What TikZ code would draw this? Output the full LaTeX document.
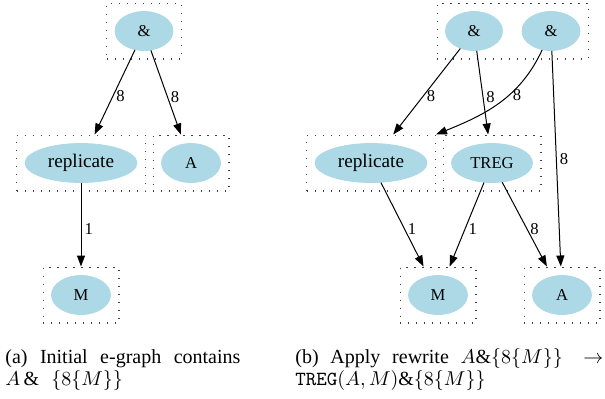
\documentclass[tikz,border=0pt]{standalone}
\usepackage{fontspec}
\setmainfont{Liberation Serif}
\usetikzlibrary{shapes.geometric}
\usetikzlibrary{fit}
\usetikzlibrary{arrows.meta}
\definecolor{egraphblue}{HTML}{ADD8E6}

\begin{document}
\begin{tikzpicture}[x=0.5pt,y=-0.5pt,
    enode/.style={ellipse,fill=egraphblue,draw=egraphblue,inner sep=0pt,minimum height=19.5pt,font=\fontsize{8.3}{10}\selectfont},
    eclass/.style={draw=black!75,line width=0.6pt,dash pattern=on 0.6pt off 3.4pt,inner sep=4pt},
    edge/.style={-{Triangle[length=5.5pt,width=4pt]},line width=0.5pt},
    lbl/.style={right,inner sep=1.5pt,font=\fontsize{8.3}{10}\selectfont}]
    \useasboundingbox (0,0) rectangle (605,398);

    % (a) initial e-graph
    \node[enode,minimum width=29pt] (aamp) at (144,31) {\&};
    \node[enode,minimum width=56pt,font=\fontsize{9.6}{11}\selectfont] (arep) at (81,163) {replicate};
    \node[enode,minimum width=29.5pt] (aA) at (191,163) {A};
    \node[enode,minimum width=29.5pt] (aM) at (81,295) {M};

    \node[eclass,fit=(aamp)] (aampbox) {};
    \node[eclass,fit=(arep)] (arepbox) {};
    \node[eclass,fit=(aA)] (aAbox) {};
    \node[eclass,fit=(aM)] (aMbox) {};

    \draw[edge] (aamp) -- node[lbl,pos=0.55] {8} (arepbox);
    \draw[edge] (aamp) -- node[lbl,pos=0.55] {8} (aAbox);
    \draw[edge] (arep) -- node[lbl,pos=0.55] {1} (aMbox);

    % (b) after the rewrite
    \node[enode,minimum width=28.5pt] (bamp1) at (474,31) {\&};
    \node[enode,minimum width=29pt] (bamp2) at (551,31) {\&};
    \node[enode,minimum width=56pt,font=\fontsize{9.6}{11}\selectfont] (brep) at (371,163) {replicate};
    \node[enode,minimum width=40.5pt] (btreg) at (492,163) {TREG};
    \node[enode,minimum width=29.5pt] (bM) at (438,295) {M};
    \node[enode,minimum width=29.5pt] (bA) at (562,295) {A};

    \node[eclass,fit=(bamp1)(bamp2)] (bampbox) {};
    \node[eclass,fit=(brep)] (brepbox) {};
    \node[eclass,fit=(btreg)] (btregbox) {};
    \node[eclass,fit=(bM)] (bMbox) {};
    \node[eclass,fit=(bA)] (bAbox) {};

    \draw[edge] (bamp1) -- node[lbl,pos=0.55] {8} (brepbox);
    \draw[edge] (bamp1) -- node[lbl,pos=0.55] {8} (btregbox);
    \draw[edge] (bamp2) to[out=245,in=22] node[lbl,pos=0.4] {8} (brepbox.north east);
    \draw[edge] (bamp2) -- node[lbl,pos=0.5] {8} (bAbox);
    \draw[edge] (brep) -- node[lbl,pos=0.55] {1} (bMbox);
    \draw[edge] (btreg) -- node[lbl,pos=0.55] {1} (bMbox);
    \draw[edge] (btreg) -- node[lbl,pos=0.55] {8} (bAbox);

    % captions
    \node[anchor=base west,inner sep=0pt,font=\fontsize{10}{11}\selectfont] (capa1) at (5,363) {\makebox[117.5pt][s]{(a) Initial e-graph contains}};
    \node[anchor=base west,inner sep=0pt,font=\fontsize{10}{11}\selectfont] (capa2) at (5,385) {$A\,\&\hspace{6pt}\{8\{M\}\}$};
    \node[anchor=base west,inner sep=0pt,font=\fontsize{10}{11}\selectfont] (capb1) at (295,363) {\makebox[154pt][s]{(b) Apply rewrite $A\&\{8\{M\}\}\rightarrow$}};
    \node[anchor=base west,inner sep=0pt,font=\fontsize{10}{11}\selectfont] (capb2) at (295,385) {\texttt{TREG}$(A,M)\&\{8\{M\}\}$};
\end{tikzpicture}
\end{document}
